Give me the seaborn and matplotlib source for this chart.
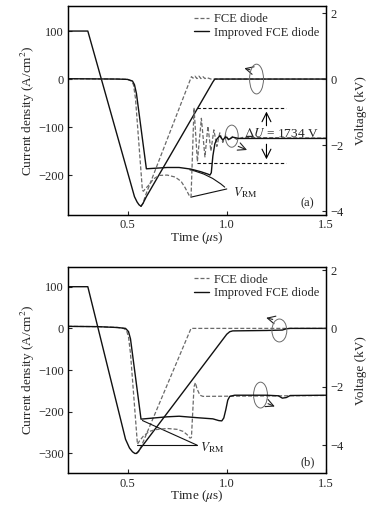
import numpy as np
import matplotlib
matplotlib.use("Agg")
import matplotlib.pyplot as plt
from matplotlib.lines import Line2D
from matplotlib.patches import Ellipse
import seaborn as sns

# ---------------- panel (a) data ----------------
# current density (A/cm^2), both diodes share the first part
a_t_cur_common = [0.2, 0.30, 0.535, 0.548, 0.558, 0.568]
a_j_cur_common = [100, 100, -245, -256, -262, -265]

a_t_cur_fce = [0.578, 0.59, 0.822, 0.83, 0.84, 0.85, 0.86, 0.87, 0.88, 0.89, 0.90, 0.92, 1.5]
a_j_cur_fce = [-259, -243, 5, 2, 6, 1, 6, 1, 5, 1, 3, 0, 0]

a_t_cur_imp = [0.578, 0.595, 0.93, 0.94, 0.96, 1.5]
a_j_cur_imp = [-259, -245, -6, 0, 0, 0]

# voltage (kV)
a_t_v_fce = [0.2, 0.45, 0.50, 0.52, 0.53, 0.54, 0.575, 0.58, 0.59, 0.61, 0.63, 0.66, 0.70,
             0.74, 0.77, 0.79, 0.81, 0.82, 0.835, 0.852, 0.872, 0.89, 0.905, 0.92, 0.935,
             0.95, 0.965, 0.98, 0.995, 1.01, 1.03, 1.05, 1.08, 1.5]
a_v_fce = [0.01, 0.0, -0.01, -0.06, -0.17, -0.58, -3.37, -3.40, -3.32, -3.20, -3.03, -2.92,
           -2.91, -2.97, -3.10, -3.29, -3.52, -3.58, -0.87, -2.50, -1.19, -2.36, -1.43,
           -2.18, -1.54, -2.04, -1.63, -1.92, -1.69, -1.86, -1.73, -1.83, -1.77, -1.79]

a_t_v_imp = [0.2, 0.45, 0.50, 0.525, 0.535, 0.545, 0.595, 0.62, 0.70, 0.76, 0.82, 0.87,
             0.905, 0.915, 0.922, 0.93, 0.94, 0.95, 0.965, 0.98, 0.995, 1.01, 1.03, 1.06, 1.5]
a_v_imp = [0.01, 0.0, -0.01, -0.06, -0.17, -0.44, -2.72, -2.71, -2.68, -2.68, -2.73, -2.81,
           -2.88, -2.91, -2.84, -2.33, -1.96, -1.82, -1.72, -1.85, -1.75, -1.83, -1.76,
           -1.80, -1.80]

# ---------------- panel (b) data ----------------
b_t_cur_common = [0.2, 0.30, 0.49, 0.51, 0.525, 0.537, 0.545]
b_j_cur_common = [100, 100, -266, -287, -296, -300, -300]

b_t_cur_fce = [0.555, 0.57, 0.82, 1.5]
b_j_cur_fce = [-296, -282, 0, 0]

b_t_cur_imp = [0.555, 0.57, 1.0, 1.015, 1.03, 1.2, 1.28, 1.30, 1.32, 1.5]
b_j_cur_imp = [-295, -285, -14, -8, -6, -5, -4, -1, 0, 0]

b_t_v_fce = [0.2, 0.35, 0.45, 0.48, 0.495, 0.505, 0.515, 0.55, 0.56, 0.58, 0.61, 0.64, 0.70,
             0.75, 0.78, 0.80, 0.815, 0.822, 0.835, 0.842, 0.85, 0.865, 0.88, 1.5]
b_v_fce = [0.07, 0.06, 0.03, 0.0, -0.07, -0.29, -0.86, -3.97, -3.86, -3.69, -3.53, -3.47,
           -3.43, -3.46, -3.53, -3.64, -3.76, -3.74, -2.0, -1.86, -2.07, -2.29, -2.33, -2.30]

b_t_v_imp = [0.2, 0.35, 0.45, 0.49, 0.505, 0.515, 0.568, 0.60, 0.70, 0.76, 0.85, 0.93, 0.96,
             0.975, 0.985, 0.995, 1.005, 1.015, 1.04, 1.2, 1.26, 1.28, 1.30, 1.32, 1.5]
b_v_imp = [0.07, 0.06, 0.03, 0.0, -0.11, -0.36, -3.11, -3.09, -3.03, -3.01, -3.06, -3.10,
           -3.16, -3.17, -3.07, -2.79, -2.46, -2.33, -2.29, -2.29, -2.31, -2.39, -2.37,
           -2.30, -2.29]

x_ticks = [0.5, 1.0, 1.5]
a_left_ticks = [100, 0, -100, -200]
b_left_ticks = [100, 0, -100, -200, -300]
right_ticks = [2, 0, -2, -4]

GREY = "#6a6a6a"
BLACK = "#111111"
DASH = (3.2, 1.6)

sns.set_style("ticks")
plt.rcParams["font.family"] = ["Liberation Serif", "DejaVu Serif"]
plt.rcParams["mathtext.fontset"] = "stix"
plt.rcParams["axes.unicode_minus"] = True

fig = plt.figure(figsize=(3.84, 5.08), dpi=100)
ax_a = fig.add_axes([0.177, 0.577, 0.672, 0.411])
ax_b = fig.add_axes([0.177, 0.068, 0.672, 0.407])


def draw_panel(ax, t_cc, j_cc, t_cf, j_cf, t_ci, j_ci, t_vf, v_f, t_vi, v_i, ylim, k, lticks, tag):
    ax2 = ax.twinx()
    # current
    sns.lineplot(x=t_cc, y=j_cc, ax=ax, color=BLACK, lw=1.0, sort=False, estimator=None)
    sns.lineplot(x=[t_cc[-1]] + t_cf, y=[j_cc[-1]] + j_cf, ax=ax, color=GREY, lw=0.9,
                 dashes=DASH, sort=False, estimator=None)
    sns.lineplot(x=[t_cc[-1]] + t_ci, y=[j_cc[-1]] + j_ci, ax=ax, color=BLACK, lw=1.0,
                 sort=False, estimator=None)
    # voltage
    sns.lineplot(x=t_vf, y=v_f, ax=ax2, color=GREY, lw=0.9, dashes=DASH, sort=False, estimator=None)
    sns.lineplot(x=t_vi, y=v_i, ax=ax2, color=BLACK, lw=1.0, sort=False, estimator=None)

    ax.set_xlim(0.2, 1.5)
    ax.set_ylim(*ylim)
    ax2.set_ylim(ylim[0] / k, ylim[1] / k)
    ax.set_xticks(x_ticks)
    ax.set_xticklabels(["0.5", "1.0", "1.5"])
    ax.set_yticks(lticks)
    ax2.set_yticks(right_ticks)
    for a in (ax, ax2):
        a.tick_params(direction="in", length=3, width=0.8, labelsize=9, pad=3)
        for s in a.spines.values():
            s.set_linewidth(0.9)
            s.set_color("black")
    ax.tick_params(axis="x", pad=3)
    ax.set_xlabel(r"Time ($\mu$s)", fontsize=9.5, labelpad=-1)
    ax.set_ylabel("Current density (A/cm$^2$)", fontsize=9.5, labelpad=1)
    ax2.set_ylabel("Voltage (kV)", fontsize=9.5, labelpad=8)
    ax.text(0.955, 0.025, tag, transform=ax.transAxes, fontsize=9, ha="right", va="bottom")
    handles = [Line2D([], [], color=GREY, lw=0.9, dashes=DASH),
               Line2D([], [], color=BLACK, lw=1.0)]
    ax.legend(handles, ["FCE diode", "Improved FCE diode"], loc="upper right", frameon=False,
              fontsize=9, handlelength=1.2, handletextpad=0.4, labelspacing=0.15,
              borderaxespad=0.25, borderpad=0.3)
    return ax2


ax2_a = draw_panel(ax_a, a_t_cur_common, a_j_cur_common, a_t_cur_fce, a_j_cur_fce,
                   a_t_cur_imp, a_j_cur_imp, a_t_v_fce, a_v_fce, a_t_v_imp, a_v_imp,
                   (-283, 152), 68.75, a_left_ticks, "(a)")
ax2_b = draw_panel(ax_b, b_t_cur_common, b_j_cur_common, b_t_cur_fce, b_j_cur_fce,
                   b_t_cur_imp, b_j_cur_imp, b_t_v_fce, b_v_fce, b_t_v_imp, b_v_imp,
                   (-348, 148), 70.0, b_left_ticks, "(b)")

arrow_kw = dict(arrowstyle="->", lw=0.8, color="#222222", mutation_scale=14)
big_arrow = dict(arrowstyle="->", lw=0.8, color="k", mutation_scale=16)

# ---- panel (a) annotations (left-axis units) ----
ax_a.add_patch(Ellipse((1.15, 0), 0.07, 62, fill=False, ec=GREY, lw=0.7, zorder=5))
ax_a.annotate("", xy=(1.075, 24), xytext=(1.13, 18), arrowprops=arrow_kw)
ax_a.add_patch(Ellipse((1.025, -119), 0.065, 46, fill=False, ec=GREY, lw=0.7, zorder=5))
ax_a.annotate("", xy=(1.115, -150), xytext=(1.045, -138), arrowprops=arrow_kw)
for yy in (-60, -175):
    ax_a.plot([0.85, 1.3], [yy, yy], color=BLACK, lw=0.8, dashes=(3, 2))
ax_a.annotate("", xy=(1.2, -62), xytext=(1.2, -103), arrowprops=big_arrow)
ax_a.annotate("", xy=(1.2, -173), xytext=(1.2, -130), arrowprops=big_arrow)
ax_a.text(1.085, -113, r"$\Delta U$ = 1734 V", fontsize=9.5, va="center", ha="left")
ax_a.plot([0.82, 1.0], [-246, -229], color=BLACK, lw=0.8)
ax_a.annotate("", xy=(1.0, -229), xytext=(0.80, -188),
              arrowprops=dict(arrowstyle="-", lw=0.8, color=BLACK, connectionstyle="arc3,rad=-0.15"))
ax_a.text(1.03, -236, r"$V_{\rm RM}$", fontsize=9.5, va="center", ha="left")

# ---- panel (b) annotations ----
ax_b.add_patch(Ellipse((1.265, -5), 0.075, 55, fill=False, ec=GREY, lw=0.7, zorder=5))
ax_b.annotate("", xy=(1.185, 27), xytext=(1.245, 20), arrowprops=arrow_kw)
ax_b.add_patch(Ellipse((1.17, -160), 0.07, 62, fill=False, ec=GREY, lw=0.7, zorder=5))
ax_b.annotate("", xy=(1.255, -190), xytext=(1.195, -178), arrowprops=arrow_kw)
ax_b.plot([0.55, 0.85], [-280, -280], color=BLACK, lw=0.8)
ax_b.plot([0.575, 0.85], [-221, -280], color=BLACK, lw=0.8)
ax_b.text(0.865, -287, r"$V_{\rm RM}$", fontsize=9.5, va="center", ha="left")

plt.savefig("out.png", dpi=100)
